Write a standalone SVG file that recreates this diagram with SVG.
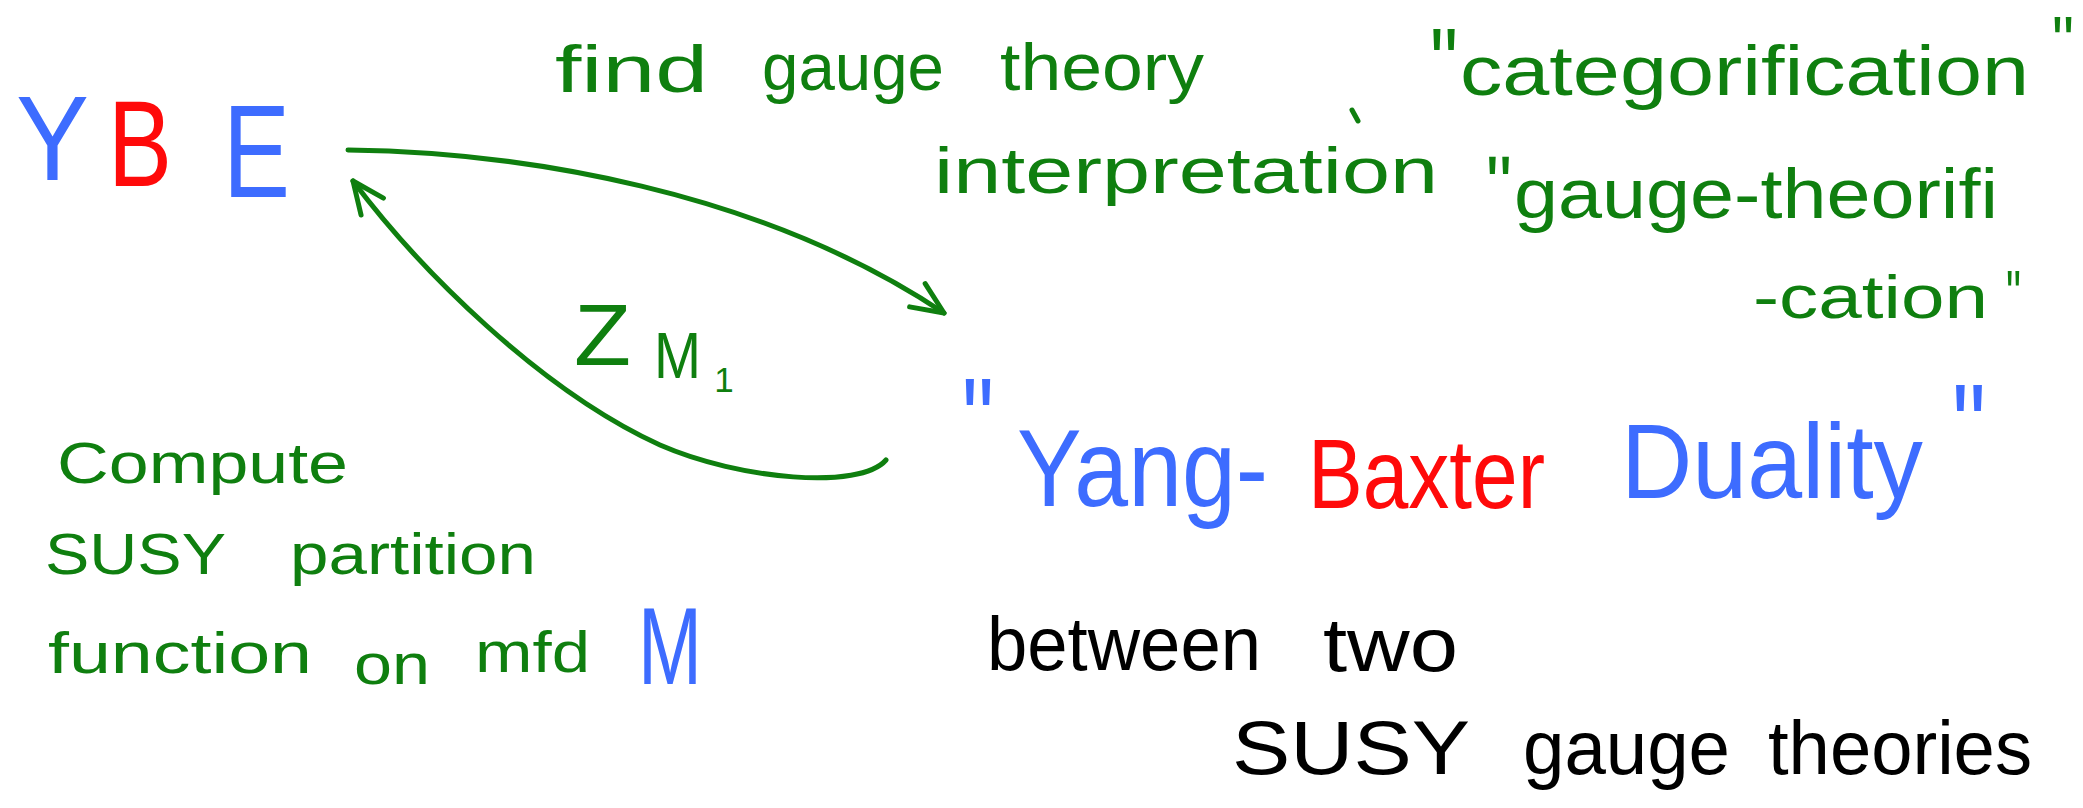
<svg xmlns="http://www.w3.org/2000/svg" width="2083" height="808" viewBox="0 0 2083 808">
<style>
text{font-family:"Liberation Sans","DejaVu Sans",sans-serif;}
.g{fill:#0f7f0f}
.b{fill:#3d6cff}
.r{fill:#ff0a0a}
.k{fill:#000}
.conn{fill:none;stroke:#0f7f0f;stroke-width:5;stroke-linecap:round;stroke-linejoin:round}
</style>
<defs>
<marker id="arr" viewBox="0 0 40 36" refX="36" refY="18" markerWidth="40" markerHeight="36" markerUnits="userSpaceOnUse" orient="auto-start-reverse">
<path d="M4,4 L36,18 L4,32" fill="none" stroke="#0f7f0f" stroke-width="5" stroke-linecap="round" stroke-linejoin="round"/>
</marker>
</defs>
<rect width="2083" height="808" fill="#fff"/>

<g id="connectors">
<path class="conn" d="M348,150 C520,152 760,190 944,313" marker-end="url(#arr)"/>
<path class="conn" d="M886,460 C860,490 740,480 660,445 C540,390 420,270 353,181" marker-end="url(#arr)"/>
<path class="conn" d="M1352,110 L1358,121"/>
</g>

<g id="ybe">
<text class="b" x="16" y="180" font-size="120" textLength="73" lengthAdjust="spacingAndGlyphs">Y</text>
<text class="r" x="108" y="186" font-size="122" textLength="64" lengthAdjust="spacingAndGlyphs">B</text>
<text class="b" x="223" y="197" font-size="132" textLength="67" lengthAdjust="spacingAndGlyphs">E</text>
</g>

<g id="find-gauge">
<text class="g" x="555" y="92" font-size="66" textLength="153" lengthAdjust="spacingAndGlyphs">find</text>
<text class="g" x="762" y="90" font-size="66" textLength="182" lengthAdjust="spacingAndGlyphs">gauge</text>
<text class="g" x="1000" y="90" font-size="66" textLength="204" lengthAdjust="spacingAndGlyphs">theory</text>
<text class="g" x="934" y="193" font-size="64" textLength="504" lengthAdjust="spacingAndGlyphs">interpretation</text>
</g>

<g id="categorification">
<text class="g" x="1430" y="96" font-size="96" textLength="28" lengthAdjust="spacingAndGlyphs">"</text>
<text class="g" x="1460" y="95" font-size="70" textLength="569" lengthAdjust="spacingAndGlyphs">categorification</text>
<text class="g" x="2052" y="66" font-size="70" textLength="22" lengthAdjust="spacingAndGlyphs">"</text>
</g>

<g id="gauge-theorification">
<text class="g" x="1486" y="212" font-size="80" textLength="26" lengthAdjust="spacingAndGlyphs">"</text>
<text class="g" x="1514" y="218" font-size="70" textLength="484" lengthAdjust="spacingAndGlyphs">gauge-theorifi</text>
<text class="g" x="1753" y="318" font-size="62" textLength="235" lengthAdjust="spacingAndGlyphs">-cation</text>
<text class="g" x="2006" y="317" font-size="66" textLength="15" lengthAdjust="spacingAndGlyphs">"</text>
</g>

<g id="zm1">
<text class="g" x="574" y="365" font-size="88" textLength="57" lengthAdjust="spacingAndGlyphs">Z</text>
<text class="g" x="654" y="378" font-size="64" textLength="47" lengthAdjust="spacingAndGlyphs">M</text>
<text class="g" x="724" y="392" font-size="35" text-anchor="middle">1</text>
</g>

<g id="compute">
<text class="g" x="57" y="483" font-size="58" textLength="291" lengthAdjust="spacingAndGlyphs">Compute</text>
<text class="g" x="45" y="574" font-size="58" textLength="181" lengthAdjust="spacingAndGlyphs">SUSY</text>
<text class="g" x="290" y="574" font-size="58" textLength="246" lengthAdjust="spacingAndGlyphs">partition</text>
<text class="g" x="48" y="673" font-size="58" textLength="264" lengthAdjust="spacingAndGlyphs">function</text>
<text class="g" x="354" y="684" font-size="58" textLength="76" lengthAdjust="spacingAndGlyphs">on</text>
<text class="g" x="475" y="672" font-size="58" textLength="115" lengthAdjust="spacingAndGlyphs">mfd</text>
<text class="b" x="638" y="684" font-size="110" textLength="64" lengthAdjust="spacingAndGlyphs">M</text>
</g>

<g id="yang-baxter-duality">
<text class="b" x="962" y="462" font-size="120" textLength="32" lengthAdjust="spacingAndGlyphs">"</text>
<text class="b" x="1017" y="506" font-size="110" textLength="251" lengthAdjust="spacingAndGlyphs">Yang-</text>
<text class="r" x="1308" y="508" font-size="98" textLength="237" lengthAdjust="spacingAndGlyphs">Baxter</text>
<text class="b" x="1621" y="498" font-size="106" textLength="302" lengthAdjust="spacingAndGlyphs">Duality</text>
<text class="b" x="1952" y="468" font-size="120" textLength="34" lengthAdjust="spacingAndGlyphs">"</text>
</g>

<g id="between">
<text class="k" x="987" y="670" font-size="76" textLength="274" lengthAdjust="spacingAndGlyphs">between</text>
<text class="k" x="1323" y="671" font-size="76" textLength="135" lengthAdjust="spacingAndGlyphs">two</text>
<text class="k" x="1232" y="774" font-size="76" textLength="238" lengthAdjust="spacingAndGlyphs">SUSY</text>
<text class="k" x="1523" y="774" font-size="76" textLength="207" lengthAdjust="spacingAndGlyphs">gauge</text>
<text class="k" x="1768" y="774" font-size="76" textLength="264" lengthAdjust="spacingAndGlyphs">theories</text>
</g>
</svg>
